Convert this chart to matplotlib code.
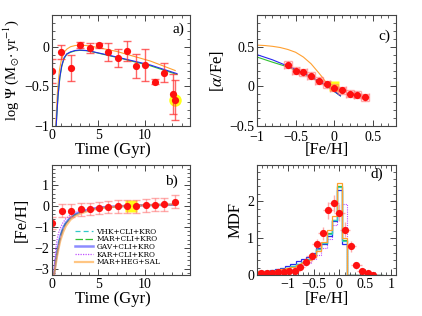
import numpy as np
import matplotlib
matplotlib.use("Agg")
import matplotlib.pyplot as plt
from matplotlib.ticker import MultipleLocator, FixedLocator, FuncFormatter

plt.rcParams['font.family'] = ['Liberation Serif', 'DejaVu Serif']
plt.rcParams['mathtext.fontset'] = 'stix'
plt.rcParams['axes.unicode_minus'] = True

# ---------------- Panel a: SFR history ----------------
sfr_t = [0.0, 1.0, 2.05, 3.05, 4.05, 5.07, 6.08, 7.09, 8.1, 9.1, 10.07, 11.08, 12.05, 13.05, 13.3]
sfr = [-0.31, -0.064, -0.27, 0.018, -0.013, 0.018, -0.064, -0.14, -0.055, -0.246, -0.234, -0.44, -0.33, -0.60, -0.67]
sfr_err = [0.15, 0.09, 0.16, 0.04, 0.065, 0.035, 0.11, 0.11, 0.125, 0.15, 0.2, 0.035, 0.12, 0.25, 0.25]
sfr_sun_t = [13.3]
sfr_sun = [-0.67]

a_blue_t = [0.45, 0.55, 0.65, 0.85, 1.05, 1.3, 1.6, 2.0, 2.5, 3.0, 3.7, 4.5, 7.0, 10.6, 13.5]
a_blue = [-1.0, -0.8, -0.62, -0.38, -0.24, -0.14, -0.09, -0.065, -0.048, -0.042, -0.048, -0.065, -0.13, -0.23, -0.34]
a_green = [-1.0, -0.81, -0.63, -0.39, -0.25, -0.15, -0.095, -0.07, -0.052, -0.046, -0.05, -0.068, -0.135, -0.24, -0.35]
a_orange_t = [0.4, 0.5, 0.6, 0.8, 1.0, 1.3, 1.6, 2.0, 2.5, 3.0, 3.7, 4.5, 7.0, 10.6, 13.3]
a_orange = [-1.0, -0.75, -0.55, -0.3, -0.17, -0.07, -0.03, 0.0, 0.015, 0.02, 0.015, 0.0, -0.06, -0.18, -0.30]

# ---------------- Panel b: AMR ----------------
amr_t = [0.0, 1.04, 2.08, 3.09, 4.06, 5.08, 6.08, 7.08, 8.1, 9.1, 10.1, 11.08, 12.1, 13.28]
amr = [-0.8, -0.21, -0.21, -0.16, -0.13, -0.10, -0.05, -0.01, -0.01, -0.01, 0.03, 0.07, 0.08, 0.22]
amr_err = [0.3] * 14
amr_sun_t = [8.5]
amr_sun = [0.0]

b_t = [0.22, 0.3, 0.4, 0.55, 0.7, 0.9, 1.2, 1.5, 2.0, 2.5, 3.0, 4.0, 5.0, 6.0, 8.0, 10.0, 12.0, 13.3]
b_vhk = [-3.3, -2.93, -2.57, -2.18, -1.83, -1.43, -1.04, -0.79, -0.55, -0.4, -0.3, -0.16, -0.08, -0.04, 0.01, 0.04, 0.06, 0.07]
b_mar = [-3.3, -2.97, -2.62, -2.22, -1.87, -1.47, -1.07, -0.82, -0.57, -0.41, -0.31, -0.17, -0.09, -0.04, 0.01, 0.04, 0.06, 0.08]
b_gav = [-3.3, -2.95, -2.6, -2.2, -1.85, -1.45, -1.05, -0.8, -0.55, -0.4, -0.3, -0.16, -0.08, -0.04, 0.01, 0.04, 0.06, 0.07]
b_kar = [-3.3, -2.6, -2.1, -1.6, -1.3, -1.05, -0.78, -0.6, -0.42, -0.3, -0.22, -0.13, -0.07, -0.03, 0.01, 0.04, 0.06, 0.07]
b_sal = [-3.3, -3.1, -2.8, -2.4, -2.05, -1.65, -1.25, -0.95, -0.65, -0.48, -0.37, -0.22, -0.12, -0.06, 0.0, 0.04, 0.07, 0.09]
legend_labels = ['VHK+CLI+KRO', 'MAR+CLI+KRO', 'GAV+CLI+KRO', 'KAR+CLI+KRO', 'MAR+HEG+SAL']

# ---------------- Panel c: [alpha/Fe] vs [Fe/H] ----------------
c_feh = [-0.6, -0.5, -0.4, -0.3, -0.2, -0.1, 0.0, 0.1, 0.2, 0.3, 0.4]
c_afe = [0.275, 0.20, 0.177, 0.135, 0.07, 0.027, -0.015, -0.049, -0.091, -0.108, -0.139]
c_sun_feh = [0.0]
c_sun_afe = [0.005]

c_orange_x = [-1.0, -0.9, -0.8, -0.7, -0.6, -0.5, -0.4, -0.3, -0.2, -0.15, -0.1, -0.05, 0.0, 0.05, 0.08]
c_orange = [0.52, 0.515, 0.505, 0.49, 0.465, 0.43, 0.37, 0.285, 0.17, 0.11, 0.04, -0.01, -0.055, -0.09, -0.11]
c_blue_x = [-1.0, -0.8, -0.6, -0.4, -0.2, -0.1, 0.0, 0.08]
c_blue = [0.40, 0.335, 0.255, 0.17, 0.065, 0.015, -0.06, -0.12]
c_green = [0.37, 0.305, 0.245, 0.165, 0.06, 0.01, -0.065, -0.12]

# ---------------- Panel d: MDF ----------------
d_feh = [-1.52, -1.41, -1.30, -1.19, -1.08, -0.97, -0.86, -0.76, -0.65, -0.54, -0.43, -0.32, -0.22, -0.11, 0.0, 0.11, 0.22, 0.33, 0.44, 0.55, 0.65]
d_mdf = [0.05, 0.06, 0.06, 0.07, 0.09, 0.10, 0.12, 0.21, 0.35, 0.51, 0.83, 1.13, 1.75, 1.94, 1.69, 1.23, 0.78, 0.26, 0.12, 0.06, 0.0]
d_err = [0.04, 0.04, 0.04, 0.05, 0.05, 0.05, 0.06, 0.08, 0.1, 0.12, 0.15, 0.18, 0.22, 0.22, 0.22, 0.2, 0.15, 0.1, 0.06, 0.04, 0.03]

h_edges = [-1.65, -1.55, -1.45, -1.35, -1.25, -1.15, -1.05, -0.95, -0.85, -0.75, -0.65, -0.55, -0.45,
           -0.35, -0.25, -0.15, -0.05, 0.05, 0.15, 0.25, 0.35, 0.45, 0.55, 0.65, 0.75, 0.85]
h_orange = [0.1, 0.1, 0.11, 0.12, 0.14, 0.16, 0.19, 0.22, 0.26, 0.32, 0.4, 0.5, 0.65, 0.9, 1.22, 1.6, 2.48, 1.0, 0, 0, 0, 0, 0, 0, 0]
h_blue = [0.1, 0.1, 0.12, 0.14, 0.17, 0.2, 0.25, 0.3, 0.37, 0.44, 0.5, 0.6, 0.72, 0.85, 1.05, 1.45, 2.3, 0.85, 0, 0, 0, 0, 0, 0, 0]
h_green = [0.09, 0.09, 0.1, 0.12, 0.14, 0.17, 0.2, 0.24, 0.3, 0.36, 0.42, 0.55, 0.7, 0.88, 1.15, 1.5, 2.4, 0.95, 0, 0, 0, 0, 0, 0, 0]
h_teal = [0.09, 0.09, 0.1, 0.12, 0.14, 0.17, 0.2, 0.24, 0.3, 0.36, 0.43, 0.56, 0.7, 0.88, 1.12, 1.5, 2.38, 0.93, 0, 0, 0, 0, 0, 0, 0]
h_purple = [0.07, 0.07, 0.08, 0.09, 0.1, 0.12, 0.14, 0.17, 0.21, 0.26, 0.32, 0.42, 0.55, 0.72, 0.98, 1.35, 1.6, 1.93, 0, 0, 0, 0, 0, 0, 0]

C_ORANGE = '#FFA030'
C_BLUE = '#2828F0'
C_GREEN = '#30C030'
C_TEAL = '#30C8C8'
C_PURPLE = '#C050FF'
RED = '#FF1010'
ECOL = (1.0, 0.2, 0.2, 0.75)
PINK = (1.0, 0.45, 0.45, 0.6)

fig = plt.figure(figsize=(4.22, 3.16), dpi=100)
W, H = 422.0, 316.0
def add_ax(l, r, t, b):
    return fig.add_axes([l / W, 1 - b / H, (r - l) / W, (b - t) / H])

ax_a = add_ax(52, 190, 15, 126)
ax_c = add_ax(257, 396, 15, 126)
ax_b = add_ax(52, 190, 165, 275)
ax_d = add_ax(257, 396, 165, 275)

def fmt(v, pos=None):
    s = ('%g' % round(v, 6))
    return s.replace('-', '\u2212')

def style(ax, xmaj, xmin, ymaj, ymin):
    ax.xaxis.set_major_locator(FixedLocator(xmaj))
    ax.xaxis.set_minor_locator(MultipleLocator(xmin))
    ax.yaxis.set_major_locator(FixedLocator(ymaj))
    ax.yaxis.set_minor_locator(MultipleLocator(ymin))
    ax.xaxis.set_major_formatter(FuncFormatter(fmt))
    ax.yaxis.set_major_formatter(FuncFormatter(fmt))
    ax.tick_params(which='both', direction='in', top=True, right=True, labelsize=10, pad=2, color='#444444')
    ax.tick_params(which='major', length=4, width=0.7)
    ax.tick_params(which='minor', length=2, width=0.6)
    for s in ax.spines.values():
        s.set_linewidth(0.8)
        s.set_color('#444444')

LABFS = 12

# ---- Panel a
ax = ax_a
ax.plot(a_orange_t, a_orange, color=C_ORANGE, lw=0.8)
ax.plot(a_blue_t, a_green, color=C_GREEN, lw=0.8)
ax.plot(a_blue_t, a_blue, color=C_BLUE, lw=0.8)
ax.plot(sfr_sun_t, sfr_sun, 'o', color='yellow', ms=9, alpha=0.9, mec='none')
ax.errorbar(sfr_t, sfr, yerr=sfr_err, fmt='o', color=RED, ms=5.2, mec='none',
            ecolor=ECOL, elinewidth=1.0, capsize=3, capthick=1.0)
ax.set_xlim(0, 14.9)
ax.set_ylim(-1, 0.4)
style(ax, [0, 5, 10], 1, [-1, -0.5, 0], 0.1)
ax.set_xlabel('Time (Gyr)', fontsize=LABFS, labelpad=0)
ax.xaxis.label.set_x(0.44)
ax.set_ylabel(r'log $\Psi$ (M$_{\odot}\!\cdot$yr$^{-1}$)', fontsize=10.5, labelpad=2)
ax.text(0.96, 0.87, 'a)', transform=ax.transAxes, fontsize=11, ha='right', va='center')

# ---- Panel c
ax = ax_c
ax.plot(c_orange_x, c_orange, color=C_ORANGE, lw=0.8)
ax.plot(c_blue_x, c_green, color=C_GREEN, lw=0.8)
ax.plot(c_blue_x, c_blue, color=C_BLUE, lw=0.8)
ax.plot(c_sun_feh, c_sun_afe, 's', color='yellow', ms=7, alpha=0.9, mec='none')
ax.errorbar(c_feh, c_afe, yerr=0.045, xerr=0.05, fmt='o', color=RED, ms=5.2, mec='none',
            ecolor=PINK, elinewidth=1.0, capsize=3, capthick=1.0)
ax.set_xlim(-1, 0.8)
ax.set_ylim(-0.5, 0.9)
style(ax, [-1, -0.5, 0, 0.5], 0.1, [-0.5, 0, 0.5], 0.1)
ax.tick_params(axis='x', which='major', pad=3.5)
ax.set_xlabel('[Fe/H]', fontsize=LABFS, labelpad=-1)
ax.set_ylabel(r'[$\alpha$/Fe]', fontsize=LABFS, labelpad=2)
ax.text(0.96, 0.81, 'c)', transform=ax.transAxes, fontsize=11, ha='right', va='center')

# ---- Panel b
ax = ax_b
l1, = ax.plot(b_t, b_vhk, color=C_TEAL, lw=0.9, ls=(0, (4, 2.5)))
l2, = ax.plot(b_t, b_mar, color=C_GREEN, lw=0.9, ls=(0, (6, 2)))
l3, = ax.plot(b_t, b_gav, color='#4040FF', lw=1.8, alpha=0.6)
l4, = ax.plot(b_t, b_kar, color=C_PURPLE, lw=0.9, ls=(0, (1, 1)))
l5, = ax.plot(b_t, b_sal, color=C_ORANGE, lw=1.6, alpha=0.6)
ax.plot(amr_sun_t, amr_sun, 's', color='yellow', ms=8, alpha=0.9, mec='none')
ax.errorbar(amr_t, amr, yerr=amr_err, fmt='o', color=RED, ms=5.2, mec='none',
            ecolor=PINK, elinewidth=1.0, capsize=3.2, capthick=1.0)
ax.set_xlim(0, 14.9)
ax.set_ylim(-3.3, 1.97)
style(ax, [0, 5, 10], 1, [-3, -2, -1, 0, 1], 0.2)
ax.set_xlabel('Time (Gyr)', fontsize=LABFS, labelpad=0)
ax.xaxis.label.set_x(0.44)
ax.set_ylabel('[Fe/H]', fontsize=LABFS, labelpad=3)
ax.text(0.91, 0.85, 'b)', transform=ax.transAxes, fontsize=11, ha='right', va='center')
leg = ax.legend(handles=[l1, l2, l3, l4, l5], labels=legend_labels, loc='lower right',
                bbox_to_anchor=(0.785, 0.08),
                prop={'family': 'DejaVu Serif', 'size': 5.3}, frameon=False,
                handlelength=2.4, handletextpad=0.5,
                labelspacing=-0.05, borderpad=0.0, borderaxespad=0.0)

# ---- Panel d
ax = ax_d
ax.stairs(h_purple, h_edges, color=C_PURPLE, lw=0.8, ls=(0, (1, 1)))
ax.stairs(h_blue, h_edges, color=C_BLUE, lw=0.9)
ax.stairs(h_green, h_edges, color=C_GREEN, lw=0.9)
ax.stairs(h_teal, h_edges, color=C_TEAL, lw=0.9)
ax.stairs(h_orange, h_edges, color=C_ORANGE, lw=0.9)
ax.errorbar(d_feh, d_mdf, yerr=d_err, xerr=0.1, fmt='o', color=RED, ms=5.2, mec='none',
            ecolor=PINK, elinewidth=1.0, capsize=0)
ax.set_xlim(-1.6, 1.1)
ax.set_ylim(0, 2.98)
style(ax, [-1, -0.5, 0, 0.5, 1], 0.1, [0, 1, 2], 0.2)
ax.set_xlabel('[Fe/H]', fontsize=LABFS, labelpad=0)
ax.set_ylabel('MDF', fontsize=LABFS, labelpad=3)
ax.text(0.91, 0.92, 'd)', transform=ax.transAxes, fontsize=11, ha='right', va='center')

fig.savefig('out.png', dpi=100)
